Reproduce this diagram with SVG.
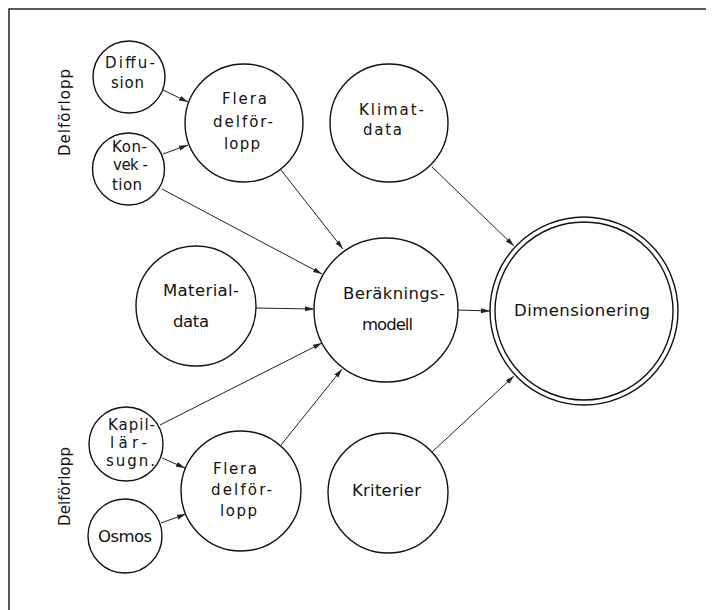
<svg xmlns="http://www.w3.org/2000/svg" width="713" height="610" viewBox="0 0 713 610">
<style>
  .n circle { fill: #fff; stroke: #111; stroke-width: 1.4; }
  text { font-family: "DejaVu Sans", "Liberation Sans", sans-serif; font-size: 15px; fill: #111; }
  .big { font-size: 16.5px; }
  .c line { stroke: #222; stroke-width: 1; marker-end: url(#ah); }
  .frame { stroke: #222; stroke-width: 1.5; fill: none; }
</style>
<defs>
  <marker id="ah" markerUnits="userSpaceOnUse" markerWidth="10" markerHeight="6" refX="9" refY="2.5" orient="auto">
    <path d="M0,0 L9,2.5 L0,5 Z" fill="#222"/>
  </marker>
</defs>
<rect width="713" height="610" fill="#fff"/>
<path class="frame" d="M9,610 L9,9 L706,9"/>

<g id="label-top">
  <text transform="translate(70,156) rotate(-90)" textLength="87" lengthAdjust="spacing">Delförlopp</text>
</g>
<g id="label-bottom">
  <text transform="translate(70,526) rotate(-90)" textLength="79" lengthAdjust="spacing">Delförlopp</text>
</g>

<g class="c" id="connectors">
  <line x1="163" y1="90" x2="188" y2="102"/>
  <line x1="163" y1="154" x2="188" y2="145"/>
  <line x1="162" y1="189" x2="322" y2="274"/>
  <line x1="281" y1="170" x2="343" y2="249"/>
  <line x1="432" y1="167" x2="514" y2="246"/>
  <line x1="256" y1="308" x2="314" y2="309"/>
  <line x1="160" y1="425" x2="322" y2="343"/>
  <line x1="162" y1="458" x2="185" y2="468"/>
  <line x1="161" y1="523" x2="186" y2="514"/>
  <line x1="281" y1="445" x2="342" y2="369"/>
  <line x1="458" y1="310" x2="490" y2="311"/>
  <line x1="432" y1="452" x2="514" y2="376"/>
</g>

<g class="n" id="diffusion">
  <circle cx="129" cy="77" r="36"/>
  <text x="105" y="68" textLength="50" lengthAdjust="spacing">Diffu-</text>
  <text x="111" y="88" textLength="33" lengthAdjust="spacing">sion</text>
</g>
<g class="n" id="flera-top">
  <circle cx="244" cy="123" r="59"/>
  <text x="222" y="104" textLength="45" lengthAdjust="spacing">Flera</text>
  <text x="213" y="127" textLength="60" lengthAdjust="spacing">delför-</text>
  <text x="224" y="149" textLength="36" lengthAdjust="spacing">lopp</text>
</g>
<g class="n" id="konvektion">
  <circle cx="128.5" cy="169" r="36"/>
  <text x="112" y="152" textLength="35" lengthAdjust="spacing">Kon-</text>
  <text x="113" y="170" textLength="35" lengthAdjust="spacing">vek -</text>
  <text x="112" y="190" textLength="30" lengthAdjust="spacing">tion</text>
</g>
<g class="n" id="klimatdata">
  <circle cx="389" cy="123" r="59"/>
  <text x="359" y="115" textLength="65" lengthAdjust="spacing">Klimat-</text>
  <text x="363" y="135" textLength="39" lengthAdjust="spacing">data</text>
</g>
<g class="n" id="materialdata">
  <circle cx="196" cy="306" r="60"/>
  <text class="big" x="163" y="296" textLength="76" lengthAdjust="spacing">Material-</text>
  <text class="big" x="173" y="327" textLength="36" lengthAdjust="spacing">data</text>
</g>
<g class="n" id="berakningsmodell">
  <circle cx="386" cy="310" r="72"/>
  <text class="big" x="343" y="299" textLength="102" lengthAdjust="spacing">Beräknings-</text>
  <text class="big" x="362" y="330" textLength="51" lengthAdjust="spacing">modell</text>
</g>
<g class="n" id="dimensionering">
  <circle cx="584" cy="311" r="94"/>
  <circle cx="584" cy="311" r="89"/>
  <text class="big" x="514" y="316" textLength="136" lengthAdjust="spacing">Dimensionering</text>
</g>
<g class="n" id="kapillarsugn">
  <circle cx="126" cy="444" r="37"/>
  <text x="108" y="430" textLength="47" lengthAdjust="spacing">Kapil-</text>
  <text x="110" y="448" textLength="37" lengthAdjust="spacing">lär-</text>
  <text x="106" y="466" textLength="49" lengthAdjust="spacing">sugn.</text>
</g>
<g class="n" id="flera-bottom">
  <circle cx="241" cy="491" r="60"/>
  <text x="213" y="474" textLength="44" lengthAdjust="spacing">Flera</text>
  <text x="211" y="495" textLength="61" lengthAdjust="spacing">delför-</text>
  <text x="220" y="516" textLength="37" lengthAdjust="spacing">lopp</text>
</g>
<g class="n" id="osmos">
  <circle cx="125" cy="536" r="37"/>
  <text class="big" x="98" y="542" textLength="54" lengthAdjust="spacing">Osmos</text>
</g>
<g class="n" id="kriterier">
  <circle cx="388" cy="493" r="60"/>
  <text class="big" x="352" y="496" textLength="69" lengthAdjust="spacing">Kriterier</text>
</g>
</svg>
